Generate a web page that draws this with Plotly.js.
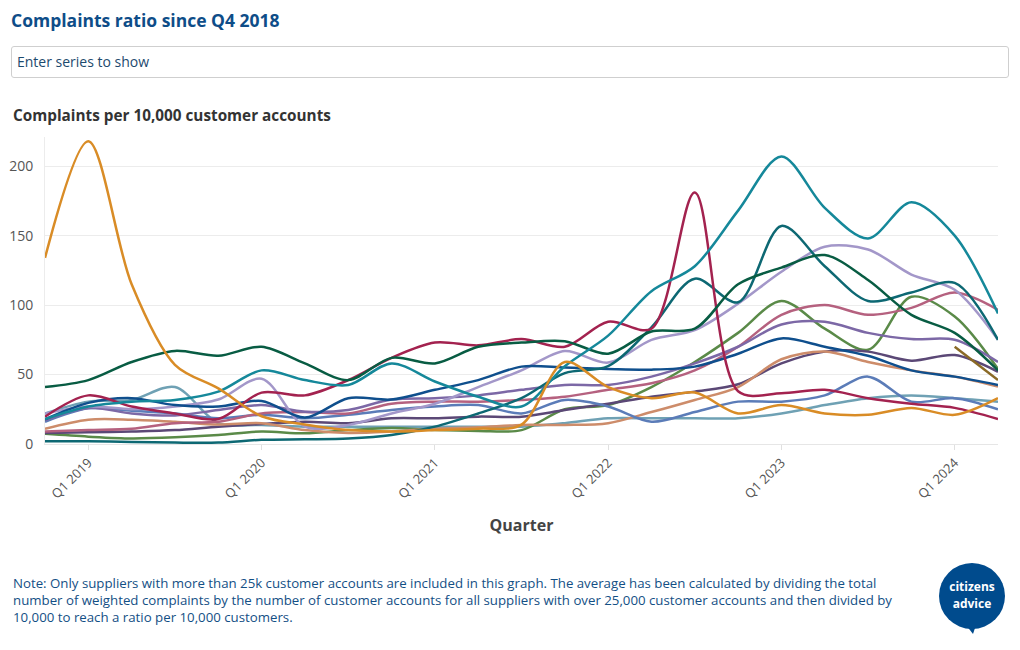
<!DOCTYPE html>
<html>
<head>
<meta charset="utf-8">
<script src="https://cdn.plot.ly/plotly-3.0.1.min.js"></script>
<style>
  html, body { margin:0; padding:0; background:#fff; }
  #wrap { position:relative; width:1020px; height:650px; overflow:hidden; font-family:"Open Sans", sans-serif; }
  #chart { position:absolute; left:0; top:0; width:1020px; height:650px; }
  #search { position:absolute; left:11px; top:46px; width:998px; height:32px; box-sizing:border-box;
            border:1px solid #cfcfcf; border-radius:3px; font-size:14px; color:#1d4a6e;
            padding-left:5px; line-height:30px; background:#fff; }
  #logo { position:absolute; left:936px; top:561px; }
  .lt { position:absolute; left:936px; width:72px; text-align:center;
        font-family:"Open Sans", sans-serif; font-weight:700; font-size:12px; line-height:16px; color:#fff; }
</style>
</head>
<body>
<div id="wrap">
  <div id="chart"></div>
  <div id="search">Enter series to show</div>
  <svg id="logo" width="72" height="76" viewBox="0 0 72 76">
    <circle cx="36" cy="35" r="33" fill="#004b8d"/>
    <path d="M30 64 L40 64 L37 73 Z" fill="#004b8d"/>
  </svg>
  <div class="lt" style="top:579px">citizens</div>
  <div class="lt" style="top:596px">advice</div>
</div>
<script>
const quarters = ["Q4 2018","Q1 2019","Q2 2019","Q3 2019","Q4 2019","Q1 2020","Q2 2020","Q3 2020","Q4 2020",
  "Q1 2021","Q2 2021","Q3 2021","Q4 2021","Q1 2022","Q2 2022","Q3 2022","Q4 2022","Q1 2023","Q2 2023",
  "Q3 2023","Q4 2023","Q1 2024","Q2 2024"];
const tickLabels = ["Q1 2019","Q1 2020","Q1 2021","Q1 2022","Q1 2023","Q1 2024"];
const yTicks = [0,50,100,150,200];

const supplierOrange   = [134,218,115,57,40,20,14,10,9,10,11,14,59,41,33,37,22,28,22,21,26,21,33];
const supplierDkGreen  = [41,46,59,67,63.5,70,58,46,62,58,70,73,74,65,81,83,115,127,136,118,93,80,53];
const supplierTeal     = [18,27,30.5,31.7,37.7,53,46,42.5,58,45,34,27,56,78,110,128,168,207,170,148,174,150,94];
const supplierDkTeal   = [2,2,1.5,1,1,3,3.4,4,6.5,12.5,22,33,51,56,84,119,102,157,128,103,109,116,75];
const supplierCrimson  = [19.7,35,27,22,18,37,35,46,62,73,71,75.5,70,88,83,181,38,36.5,39,33,29,26,18];
const supplierNavy     = [17.8,29.6,33,28,27,31,19,33,32,39,46,55.7,55,54,53.5,55.7,65,76,70,63.5,53,48.5,42.5];
const supplierLavender = [22,27,25,27,32,47,12.5,13.7,22,29,41,53,67,58.6,75,82,101,124,142,140,122,111,75];
const supplierPurple   = [17,26,22,20.5,24.5,28,23.3,24.5,32,33,35,39,42.5,42.5,48.5,58,70,86,88,80,75.5,75,59];
const supplierMauve    = [9,10,11,15,16,22,23,22,29,30.5,30.5,31.7,34,39,43.7,53,70,93,100,93,98,109,96.6];
const supplierMidBlue  = [16,25.7,24,22,18.5,21,18.5,21,24.5,27,28,22,31.7,27,16,23,30.5,30.5,35,48.5,30.5,33,25];
const supplierSteel    = [22,30.5,31.7,41,15,13.7,12.5,12.5,12.5,12.5,12.5,12.5,15,18.5,18.5,18.5,18.5,22,28,33,35,33,30.5];
const supplierTan      = [11,17.5,17.5,16,14,15,10,8,9,11,12,13.7,13.7,15,23,31.7,41,61,66.5,59,53,48.5,41.3];
const supplierPlum     = [8,8.5,9,10,12.5,14.4,16,15,18.5,18.5,19.7,19.7,24.5,29,34,37.7,43,58,66.5,66.5,60,64,52];
const supplierOlive    = [7.3,5.3,4,4.8,6.5,9,7.7,10,11.5,10,9.4,10,25,28,41,59,80,103,83,67.8,106,91.8,54];
const supplierBrown    = [null,null,null,null,null,null,null,null,null,null,null,null,null,null,null,null,null,null,null,null,null,70,46];

const seriesList = [
  {name:"Supplier A", y:supplierSteel,    color:"#6fa1b4"},
  {name:"Supplier B", y:supplierOlive,    color:"#5a8a48"},
  {name:"Supplier C", y:supplierPlum,     color:"#5b4876"},
  {name:"Supplier D", y:supplierTan,      color:"#cd8c6a"},
  {name:"Supplier E", y:supplierMidBlue,  color:"#5b7cb8"},
  {name:"Supplier F", y:supplierMauve,    color:"#b5617f"},
  {name:"Supplier G", y:supplierPurple,   color:"#7c68a6"},
  {name:"Supplier H", y:supplierLavender, color:"#a397c9"},
  {name:"Supplier I", y:supplierNavy,     color:"#0f4f8d"},
  {name:"Supplier J", y:supplierDkTeal,   color:"#0d6873"},
  {name:"Supplier K", y:supplierCrimson,  color:"#a3224f"},
  {name:"Supplier L", y:supplierDkGreen,  color:"#085c43"},
  {name:"Supplier M", y:supplierTeal,     color:"#15889a"},
  {name:"Supplier N", y:supplierOrange,   color:"#d98c26"},
  {name:"Supplier O", y:supplierBrown,    color:"#8a6a26"}
];

const traces = seriesList.map(s => ({
  type:"scatter", mode:"lines", name:s.name, x:quarters, y:s.y,
  line:{color:s.color, width:2.5, shape:"spline", smoothing:0.9},
  connectgaps:false, hoverinfo:"x+y+name"
}));

const layout = {
  width:1020, height:650,
  margin:{l:45, r:22, t:137, b:206},
  paper_bgcolor:"#fff", plot_bgcolor:"#fff",
  font:{family:"Open Sans", color:"#555"},
  showlegend:false,
  title:{text:"Complaints ratio since Q4 2018", xref:"container", x:11/1020, xanchor:"left",
         yref:"container", y:1-21/650, yanchor:"middle",
         font:{size:17.5, color:"#0e4d88", weight:700}},
  xaxis:{type:"category", range:[0,22], tickmode:"array", tickvals:tickLabels, ticktext:tickLabels,
         tickangle:-45, tickfont:{size:13, color:"#555"}, showgrid:false, zeroline:false,
         showline:true, linecolor:"#e6e6e6", ticks:"outside", ticklen:5, tickcolor:"#e0e0e0",
         title:{text:"Quarter", font:{size:16, color:"#444", weight:700}, standoff:18}},
  yaxis:{range:[0,221], tickmode:"array", tickvals:yTicks, tickfont:{size:14, color:"#555"},
         gridcolor:"#ececec", zeroline:false, showline:true, linecolor:"#ececec",
         ticks:"", ticklabelstandoff:8},
  annotations:[
    {text:"Complaints per 10,000 customer accounts", xref:"paper", yref:"paper",
     x:(11-45)/951, xanchor:"left", y:(444-115)/307, yanchor:"middle", showarrow:false,
     font:{size:15.3, color:"#333", weight:700}},
    {text:"Note: Only suppliers with more than 25k customer accounts are included in this graph. The average has been calculated by dividing the total<br>number of weighted complaints by the number of customer accounts for all suppliers with over 25,000 customer accounts and then divided by<br>10,000 to reach a ratio per 10,000 customers.",
     xref:"paper", yref:"paper", x:(11-45)/951, xanchor:"left", y:(444-572)/307, yanchor:"top",
     align:"left", showarrow:false, font:{size:13.25, color:"#134f85"}}
  ]
};

Plotly.newPlot("chart", traces, layout, {displayModeBar:false, staticPlot:true});
</script>
</body>
</html>
